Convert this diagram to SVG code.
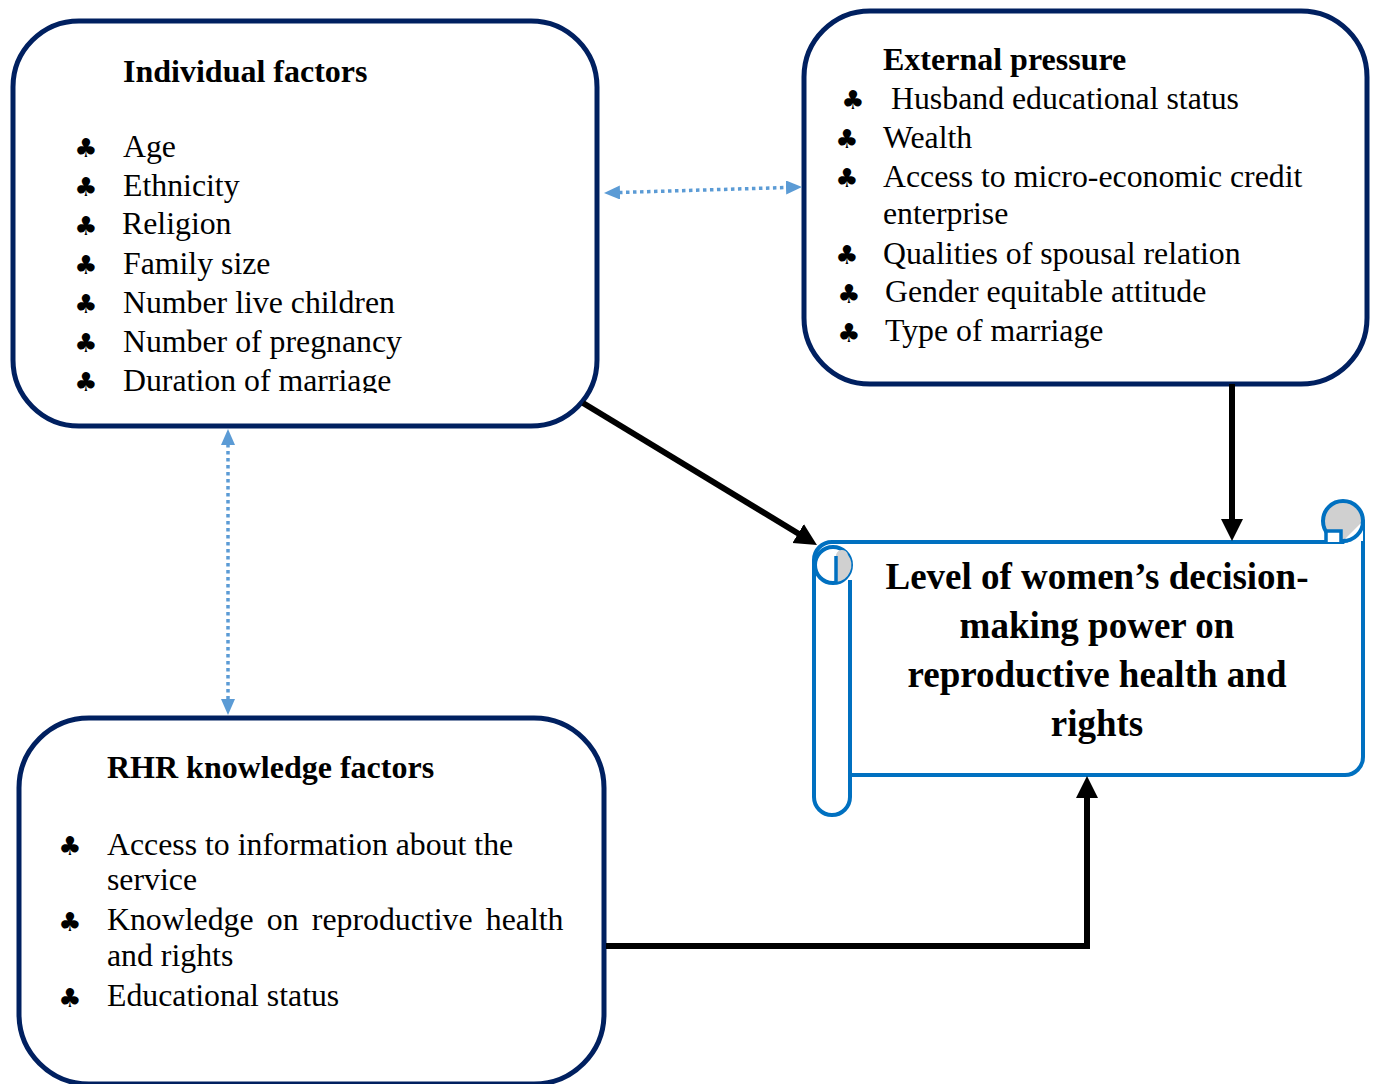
<svg xmlns="http://www.w3.org/2000/svg" width="1376" height="1084" viewBox="0 0 1376 1084">
<style>
.box{fill:#fff;stroke:#002060;stroke-width:5}
.t{font-family:"Liberation Serif","Times New Roman",serif;font-size:31.8px;fill:#000}
.b{font-family:"Liberation Serif","Times New Roman",serif;font-size:32px;font-weight:bold;fill:#000}
.club{font-family:"DejaVu Sans",sans-serif;font-size:26px;fill:#000;text-anchor:middle}
.scr{fill:#fff;stroke:#0070C0;stroke-width:4;stroke-linejoin:round}
.st{font-family:"Liberation Serif","Times New Roman",serif;font-size:37px;font-weight:bold;fill:#000;text-anchor:middle}
.arr{fill:none;stroke:#000;stroke-width:6}
.dot{fill:none;stroke:#5B9BD5;stroke-width:3.5;stroke-dasharray:3.5 3.5}
</style>
<defs>
<marker id="ah" markerUnits="userSpaceOnUse" markerWidth="24" markerHeight="24" refX="1" refY="11" orient="auto">
<path d="M0,0 L22,11 L0,22 Z" fill="#000"/>
</marker>
<marker id="bh" markerUnits="userSpaceOnUse" markerWidth="18" markerHeight="16" refX="1" refY="7" orient="auto-start-reverse">
<path d="M0,0 L16,7 L0,14 Z" fill="#5B9BD5"/>
</marker>
<clipPath id="c1"><rect x="0" y="0" width="620" height="393"/></clipPath>
</defs>

<g id="individual-factors">
<rect class="box" x="13" y="21" width="584" height="405" rx="66" ry="66"/>
<text class="b" x="123" y="82">Individual factors</text>
<g clip-path="url(#c1)">
<text class="club" x="86" y="157">♣</text><text class="t" x="123" y="157">Age</text>
<text class="club" x="86" y="196">♣</text><text class="t" x="123" y="196">Ethnicity</text>
<text class="club" x="86" y="235">♣</text><text class="t" x="122" y="234">Religion</text>
<text class="club" x="86" y="274">♣</text><text class="t" x="123" y="274">Family size</text>
<text class="club" x="86" y="313">♣</text><text class="t" x="123" y="313">Number live children</text>
<text class="club" x="86" y="352">♣</text><text class="t" x="123" y="352">Number of pregnancy</text>
<text class="club" x="86" y="391">♣</text><text class="t" x="123" y="391">Duration of marriage</text>
</g>
</g>

<g id="external-pressure">
<rect class="box" x="804" y="11" width="563" height="373" rx="66" ry="66"/>
<text class="b" x="883" y="70">External pressure</text>
<text class="club" x="853" y="109">♣</text><text class="t" x="891" y="109">Husband educational status</text>
<text class="club" x="847" y="148">♣</text><text class="t" x="883" y="148">Wealth</text>
<text class="club" x="847" y="187">♣</text><text class="t" x="883" y="187">Access to micro-economic credit</text>
<text class="t" x="883" y="224">enterprise</text>
<text class="club" x="847" y="264">♣</text><text class="t" x="883" y="264">Qualities of spousal relation</text>
<text class="club" x="849" y="303">♣</text><text class="t" x="885" y="302">Gender equitable attitude</text>
<text class="club" x="849" y="342">♣</text><text class="t" x="885" y="341">Type of marriage</text>
</g>

<g id="rhr-knowledge-factors">
<rect class="box" x="19" y="718" width="585" height="366" rx="70" ry="70"/>
<text class="b" x="107" y="778">RHR knowledge factors</text>
<text class="club" x="70" y="855">♣</text><text class="t" x="107" y="855">Access to information about the</text>
<text class="t" x="107" y="890">service</text>
<text class="club" x="70" y="931">♣</text><text class="t" x="107" y="930" word-spacing="5.3">Knowledge on reproductive health</text>
<text class="t" x="107" y="966">and rights</text>
<text class="club" x="70" y="1007">♣</text><text class="t" x="107" y="1006">Educational status</text>
</g>

<g id="decision-making-power">
<path class="scr" d="M832,542 H1343 L1363,521 V757 A18,18 0 0 1 1345,775 H850 V797 A18,18 0 0 1 814,797 V560 A18,18 0 0 1 832,542 Z"/>
<circle cx="1343" cy="521" r="20" fill="#d0d0d0" stroke="#0070C0" stroke-width="4"/>
<path d="M1343,541 H1363 V521" fill="#fff" stroke="none"/>
<path d="M1326,542 V531 H1341 V542" fill="#fff" stroke="#0070C0" stroke-width="3.5"/>
<path d="M1343,541 A20,20 0 0 0 1363,521" fill="none" stroke="#0070C0" stroke-width="4"/>
<line x1="850" y1="775" x2="850" y2="580" stroke="#0070C0" stroke-width="4"/>
<circle cx="833" cy="565" r="18" fill="#fff" stroke="#0070C0" stroke-width="4"/>
<path d="M836,582 V557 A6,6 0 0 1 848,555 A17,17 0 0 1 836,582 Z" fill="#d0d0d0"/>
<line x1="836" y1="556" x2="836" y2="583" stroke="#0070C0" stroke-width="3.5"/>
<text class="st" x="1097" y="589">Level of women’s decision-</text>
<text class="st" x="1097" y="638">making power on</text>
<text class="st" x="1097" y="687">reproductive health and</text>
<text class="st" x="1097" y="736">rights</text>
</g>

<g id="connectors">
<line class="dot" x1="619" y1="192.5" x2="787" y2="187.5" marker-start="url(#bh)" marker-end="url(#bh)"/>
<line class="dot" x1="228" y1="444" x2="228" y2="700" marker-start="url(#bh)" marker-end="url(#bh)"/>
<line class="arr" x1="583" y1="403" x2="799" y2="534" marker-end="url(#ah)"/>
<line class="arr" x1="1232" y1="384" x2="1232" y2="520" marker-end="url(#ah)"/>
<path class="arr" d="M606,946 H1087 V797" marker-end="url(#ah)"/>
</g>
</svg>
